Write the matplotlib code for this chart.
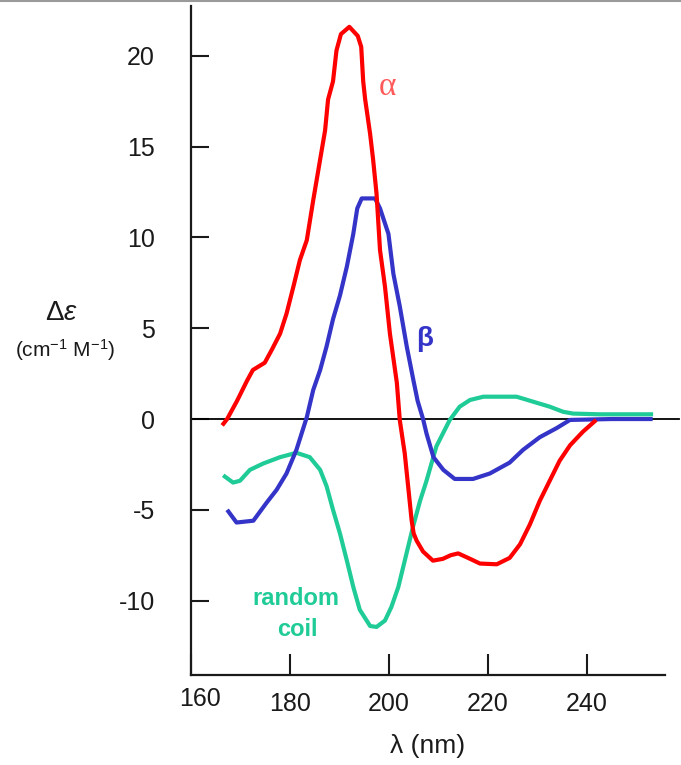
import matplotlib
matplotlib.use("Agg")
import matplotlib.pyplot as plt
from matplotlib.lines import Line2D
from matplotlib.transforms import ScaledTranslation

plt.rcParams["font.family"] = ["Liberation Sans", "DejaVu Sans"]
plt.rcParams["mathtext.fontset"] = "custom"
plt.rcParams["mathtext.rm"] = "Liberation Sans"
plt.rcParams["mathtext.it"] = "Liberation Sans:italic"

# CD spectra of the three secondary-structure types
alpha_wl = [166.3, 167.3, 169.3, 171.3, 172.5, 174.9, 176.3, 178.0, 179.3, 180.7,
            182.0, 183.4, 184.7, 186.1, 187.1, 187.7, 188.7, 189.4, 190.3, 192.0,
            193.7, 194.4, 194.8, 195.2, 196.2, 196.8, 197.5, 198.2, 199.2, 200.2,
            201.6, 202.2, 203.2, 203.9, 204.6, 205.0, 205.6, 206.9, 208.9, 210.9,
            212.5, 214.0, 216.4, 218.4, 221.8, 224.4, 226.5, 228.5, 230.5, 232.5,
            234.5, 236.6, 239.2, 241.9]
alpha_de = [-0.35, 0.0, 1.0, 2.1, 2.7, 3.1, 3.8, 4.7, 5.8, 7.3,
            8.75, 9.85, 12.05, 14.3, 15.9, 17.6, 18.6, 20.3, 21.2, 21.6,
            21.1, 20.5, 18.6, 17.6, 15.7, 14.3, 12.4, 9.3, 7.3, 4.7,
            2.0, -0.07, -1.9, -3.75, -5.6, -6.3, -6.7, -7.3, -7.8, -7.7,
            -7.5, -7.4, -7.7, -7.96, -8.0, -7.65, -6.9, -5.8, -4.5, -3.4,
            -2.3, -1.45, -0.7, -0.05]

beta_wl = [167.3, 169.2, 172.6, 175.3, 177.3, 179.3, 181.3, 183.4, 184.7, 186.1,
           187.4, 188.7, 190.1, 191.5, 192.8, 193.6, 194.5, 196.0, 197.2, 198.2,
           199.9, 200.9, 202.2, 203.6, 204.9, 205.8, 206.9, 207.6, 209.0, 211.0,
           213.3, 217.0, 220.4, 224.4, 227.1, 230.5, 233.9, 236.6, 245.0, 253.3]
beta_de = [-5.0, -5.7, -5.6, -4.6, -3.9, -3.0, -1.7, 0.1, 1.6, 2.7,
           4.0, 5.5, 6.8, 8.4, 10.2, 11.6, 12.15, 12.15, 12.15, 11.6,
           10.2, 8.0, 6.2, 4.0, 2.2, 1.0, 0.0, -0.8, -2.1, -2.8,
           -3.3, -3.3, -3.0, -2.4, -1.7, -1.0, -0.5, -0.05, 0.0, 0.0]

coil_wl = [166.5, 168.5, 169.9, 171.9, 174.6, 178.0, 181.3, 184.0, 186.1, 187.4,
           188.7, 190.1, 191.5, 192.8, 194.1, 196.2, 197.5, 199.2, 200.5, 201.9,
           203.2, 204.9, 206.3, 207.6, 209.6, 212.3, 214.3, 216.4, 219.1, 225.8,
           229.2, 232.5, 235.2, 237.2, 242.6, 253.4]
coil_de = [-3.1, -3.5, -3.4, -2.8, -2.45, -2.1, -1.86, -2.1, -2.8, -3.7,
           -5.0, -6.3, -7.8, -9.25, -10.5, -11.4, -11.45, -11.1, -10.35, -9.25,
           -7.8, -5.9, -4.5, -3.4, -1.5, -0.05, 0.68, 1.05, 1.23, 1.23,
           0.95, 0.68, 0.4, 0.3, 0.26, 0.26]

x_ticks = [160, 180, 200, 220, 240]
y_ticks = [-10, -5, 0, 5, 10, 15, 20]

RED = "#FF0000"
BLUE = "#3434C8"
GREEN = "#1FCB96"

fig = plt.figure(figsize=(6.81, 7.65), dpi=100)
ax = fig.add_axes([0.2805, 0.1176, 0.696, 0.8746])

line_kw = dict(lw=3.0, solid_capstyle="butt", solid_joinstyle="round")
ax.plot(coil_wl, coil_de, color=GREEN, zorder=3, **line_kw)
ax.plot(beta_wl, beta_de, color=BLUE, zorder=4, **line_kw)
ax.plot(alpha_wl, alpha_de, color=RED, zorder=5, **line_kw)

ax.axhline(0, xmin=0, xmax=1.03, color="black", lw=1.3, clip_on=False, zorder=2)

ax.set_xlim(160, 255.8)
ax.set_ylim(-14.1, 22.75)

for side in ("top", "right"):
    ax.spines[side].set_visible(False)
for side in ("left", "bottom"):
    ax.spines[side].set_linewidth(1.6)
    ax.spines[side].set_color("#1a1a1a")

ax.set_xticks(x_ticks)
ax.set_xticklabels([str(v) for v in x_ticks])
ax.set_yticks(y_ticks)
ax.set_yticklabels([str(v) for v in y_ticks])
ax.tick_params(axis="x", direction="in", length=15, width=1.5, pad=12,
               labelsize=18, colors="#1a1a1a")
ax.tick_params(axis="y", direction="in", length=13, width=1.5, pad=26,
               labelsize=18, colors="#1a1a1a")

# the first wavelength label sits slightly up and to the right
lbl160 = ax.get_xticklabels()[0]
lbl160.set_transform(lbl160.get_transform() +
                     ScaledTranslation(9 / 100, 5 / 100, fig.dpi_scale_trans))

# curve labels
ax.text(199.7, 18.3, "α", color="#FF5A5A", fontsize=24,
        family=["Liberation Serif", "DejaVu Serif"], ha="center", va="center")
ax.text(207.3, 4.4, "β", color=BLUE, fontsize=20, fontweight="bold",
        ha="center", va="center")
ax.text(181.2, -9.86, "random", color=GREEN, fontsize=17, fontweight="bold",
        ha="center", va="center")
ax.text(181.4, -11.6, "coil", color=GREEN, fontsize=17, fontweight="bold",
        ha="center", va="center")

# axis titles
fig.text(62 / 681, 1 - 313 / 765, r"$\Delta$$\it{\varepsilon}$", fontsize=20,
         ha="center", va="center", color="#1a1a1a")
fig.text(65 / 681, 1 - 350 / 765, r"(cm$^{-1}$ M$^{-1}$)", fontsize=15,
         ha="center", va="center", color="#1a1a1a")
fig.text(428 / 681, 1 - 746 / 765, "λ (nm)", fontsize=19,
         ha="center", va="center", color="#1a1a1a")

# thin frame line along the top edge
fig.add_artist(Line2D([0, 1], [0.9985, 0.9985], transform=fig.transFigure,
                      color="#9a9a9a", lw=1.5))

fig.savefig("out.png", dpi=100)
